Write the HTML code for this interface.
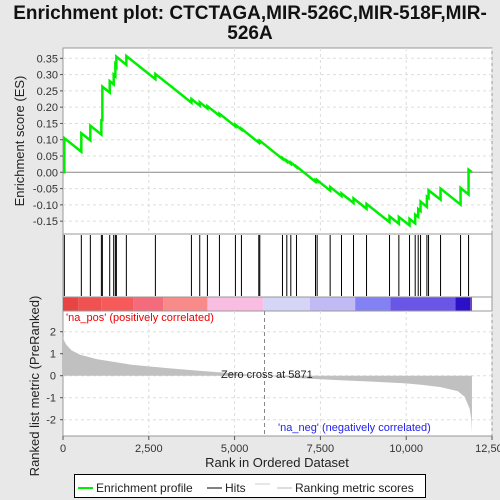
<!DOCTYPE html>
<html><head><meta charset="utf-8"><style>
body{margin:0;background:#e8e8e8;}
svg{display:block;font-family:"Liberation Sans",sans-serif;}
</style></head><body>
<svg id="c" width="500" height="500" xmlns="http://www.w3.org/2000/svg">
<rect width="500" height="500" fill="#e8e8e8"/>
<text x="250" y="19" font-size="19" font-weight="bold" text-anchor="middle" fill="#111">Enrichment plot: CTCTAGA,MIR-526C,MIR-518F,MIR-</text>
<text x="250" y="39" font-size="19" font-weight="bold" text-anchor="middle" fill="#111">526A</text>
<g id="g"></g>
</svg>
<script>
const hitRanks=[39,534,797,1118,1147,1361,1477,1526,1555,1846,2692,3742,3984,4208,4558,5024,5199,5705,5734,6395,6521,6638,6803,7357,7405,7784,8115,8465,8844,9514,9786,10097,10262,10350,10418,10603,10651,11001,11584,11817];
const esBefore=[0,0.063,0.098,0.116,0.16,0.245,0.27,0.295,0.325,0.33,0.286,0.214,0.205,0.196,0.174,0.141,0.131,0.091,0.093,0.041,0.033,0.026,0.016,-0.029,-0.028,-0.056,-0.073,-0.094,-0.112,-0.153,-0.158,-0.163,-0.157,-0.137,-0.119,-0.106,-0.079,-0.084,-0.099,-0.068];
const esAfter=[0.105,0.12,0.143,0.16,0.263,0.28,0.30,0.33,0.355,0.357,0.302,0.225,0.215,0.203,0.18,0.146,0.134,0.095,0.097,0.044,0.036,0.03,0.018,-0.024,-0.024,-0.045,-0.065,-0.08,-0.097,-0.135,-0.137,-0.143,-0.13,-0.113,-0.09,-0.075,-0.055,-0.05,-0.048,0.008];
const totalRanks=11916;
const metricRanks=[0,30,100,250,500,1000,2000,3000,4000,5000,5871,7000,8000,9000,10000,10500,11000,11500,11700,11850,11900,11916];
const metricVals=[1.8,1.6,1.4,1.15,0.95,0.75,0.5,0.35,0.22,0.1,0,-0.12,-0.2,-0.27,-0.35,-0.42,-0.52,-0.7,-0.95,-1.5,-2.0,-2.6];
const esTicks=[0.35,0.30,0.25,0.20,0.15,0.10,0.05,0.00,-0.05,-0.10,-0.15];
const metricTicks=[2,1,0,-1,-2];
const xTicks=[0,2500,5000,7500,10000,12500];
const xTickLabels=["0","2,500","5,000","7,500","10,000","12,500"];
const barEdges=[0,457,1118,2041,2916,4208,5830,7192,8513,9534,11431,11868,11916];
const barColors=["#e84444","#f05252","#f65a5a","#f46c7c","#f88a8a","#f9bde2","#d5d5f8","#c2baf4","#8282f4","#6a56e6","#2c10c8","#6a3ab8"];

const NS="http://www.w3.org/2000/svg";
const g=document.getElementById('g');
const L=63,R=492;
const x=r=>L+r*(R-L)/12500;
const yES=v=>172.3-v*325.7;
const yM=v=>375.7-v*22;
function el(t,a,p){const e=document.createElementNS(NS,t);for(const k in a)e.setAttribute(k,a[k]);(p||g).appendChild(e);return e;}
function txt(s,a){const e=el('text',a);e.textContent=s;return e;}

let p=el('rect',{x:L,y:48,width:R-L,height:186,fill:'#fff',stroke:'#999'});

p=el('rect',{x:L,y:234,width:R-L,height:63,fill:'#fff',stroke:'#999'});

p=el('rect',{x:L,y:297,width:R-L,height:14,fill:'#fff',stroke:'#999'});

p=el('rect',{x:L,y:311,width:R-L,height:125,fill:'#fff',stroke:'#999'});


xTicks.forEach((t,i)=>{if(i==0)return;
 let a=el('line',{x1:x(t),x2:x(t),y1:48,y2:234,stroke:'#ddd','stroke-dasharray':'3,3'});
 a=el('line',{x1:x(t),x2:x(t),y1:311,y2:436,stroke:'#ddd','stroke-dasharray':'3,3'});});
esTicks.forEach(t=>{const y=yES(t);
 let a=el('line',{x1:L,x2:R,y1:y,y2:y,stroke:t==0?'#888':'#ddd','stroke-dasharray':t==0?'':'3,3'});
 a=el('line',{x1:L-3,x2:L,y1:y,y2:y,stroke:'#555'});
 a=txt(t.toFixed(2),{x:L-5,y:y+4,'font-size':11,'text-anchor':'end',fill:'#333'});});
metricTicks.forEach(t=>{const y=yM(t);
 let a=el('line',{x1:L,x2:R,y1:y,y2:y,stroke:'#ddd','stroke-dasharray':'3,3'});
 a=el('line',{x1:L-3,x2:L,y1:y,y2:y,stroke:'#555'});
 a=txt(String(t),{x:L-7,y:y+4,'font-size':11,'text-anchor':'end',fill:'#333'});});
xTicks.forEach((t,i)=>{
 let a=el('line',{x1:x(t),x2:x(t),y1:436,y2:440,stroke:'#555'});
 a=txt(xTickLabels[i],{x:x(t),y:452,'font-size':11,'text-anchor':'middle',fill:'#333'});});

let pts=[[0,0]];
hitRanks.forEach((r,i)=>{pts.push([r,esBefore[i]]);pts.push([r,esAfter[i]]);});
pts.push([totalRanks,0]);
let es=el('polyline',{points:pts.map(q=>x(q[0])+','+yES(q[1])).join(' '),fill:'none',stroke:'#00ee00','stroke-width':2.5});


hitRanks.forEach(r=>{const h=el('line',{x1:x(r),x2:x(r),y1:235,y2:296,stroke:'#000','stroke-width':1});
 });

barColors.forEach((c,i)=>{const b=el('rect',{x:x(barEdges[i]),y:297.5,width:x(barEdges[i+1])-x(barEdges[i]),height:13,fill:c});
 });

let mp=metricRanks.map((r,i)=>x(r)+','+yM(metricVals[i]));
let area=el('polygon',{points:x(0)+','+yM(0)+' '+mp.join(' ')+' '+x(totalRanks)+','+yM(0),fill:'#c0c0c0'});

let zc=el('line',{x1:x(5871),x2:x(5871),y1:311,y2:436,stroke:'#888','stroke-dasharray':'4,3'});


let t;
t=txt("'na_pos' (positively correlated)",{x:66,y:321,'font-size':11,fill:'#e00'});
t=txt("Zero cross at 5871",{x:221,y:378,'font-size':11,fill:'#222'});
t=txt("'na_neg' (negatively correlated)",{x:278,y:431,'font-size':11,fill:'#22e'});
t=txt("Rank in Ordered Dataset",{x:277,y:467,'font-size':13,'text-anchor':'middle',fill:'#222'});
t=txt("Enrichment score (ES)",{x:0,y:0,'font-size':13,'text-anchor':'middle',fill:'#222',transform:'translate(24,141) rotate(-90)'});
t=txt("Ranked list metric (PreRanked)",{x:0,y:0,'font-size':13,'text-anchor':'middle',fill:'#222',transform:'translate(39,386) rotate(-90)'});

let lg=el('rect',{x:74.5,y:474.5,width:351,height:23,fill:'#fff',stroke:'#000'});
let a=el('line',{x1:78,x2:93,y1:488,y2:488,stroke:'#00ee00','stroke-width':2});
t=txt("Enrichment profile",{x:96,y:492,'font-size':12,fill:'#222'});
a=el('line',{x1:207,x2:222,y1:488,y2:488,stroke:'#000','stroke-width':1});
t=txt("Hits",{x:225,y:492,'font-size':12,fill:'#222'});
a=el('line',{x1:255,x2:270,y1:484,y2:484,stroke:'#ccc'});
a=el('line',{x1:277,x2:292,y1:488,y2:488,stroke:'#bbb'});
t=txt("Ranking metric scores",{x:295,y:492,'font-size':12,fill:'#222'});
</script>
</body></html>
